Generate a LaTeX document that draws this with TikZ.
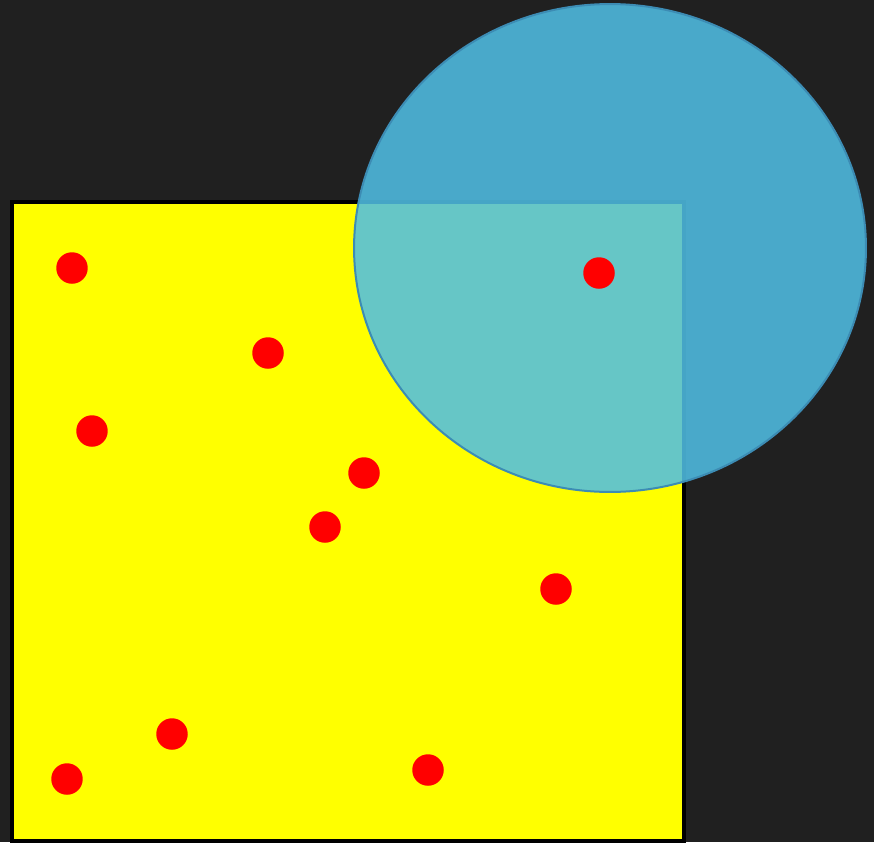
\documentclass[tikz,border=0pt]{standalone}
\usetikzlibrary{shapes.geometric}
\definecolor{board}{RGB}{32,32,32}
\definecolor{sqyellow}{RGB}{255,255,0}
\definecolor{dotred}{RGB}{255,0,0}
\definecolor{lensblue}{RGB}{80,190,228}
\definecolor{lensrim}{RGB}{60,140,180}
\tikzset{
  dot/.style={circle,fill=dotred,inner sep=0pt,minimum size=0.63cm},
  lens/.style={fill=lensblue,fill opacity=0.87,draw=lensrim,line width=0.04cm}
}
\begin{document}
\begin{tikzpicture}[x=0.02cm,y=-0.02cm]
        \useasboundingbox (0,0) rectangle (874,842);
        \fill[board] (0,0) rectangle (874,842);
        \draw[fill=sqyellow,line width=0.08cm] (12,202) rectangle (683.5,840.5);
        \node[lens,ellipse,minimum width=10.24cm,minimum height=9.76cm,inner sep=0pt] (lens) at (610,248) {};
        \foreach \n/\x/\y in {p1/72/268,p2/268/353,p3/92/431,p4/364/473,p5/325/527,
                              p6/556/589,p7/172/734,p8/67/779,p9/428/770,p10/599/273}
            \node[dot] (\n) at (\x,\y) {};
        \end{tikzpicture}
\end{document}
